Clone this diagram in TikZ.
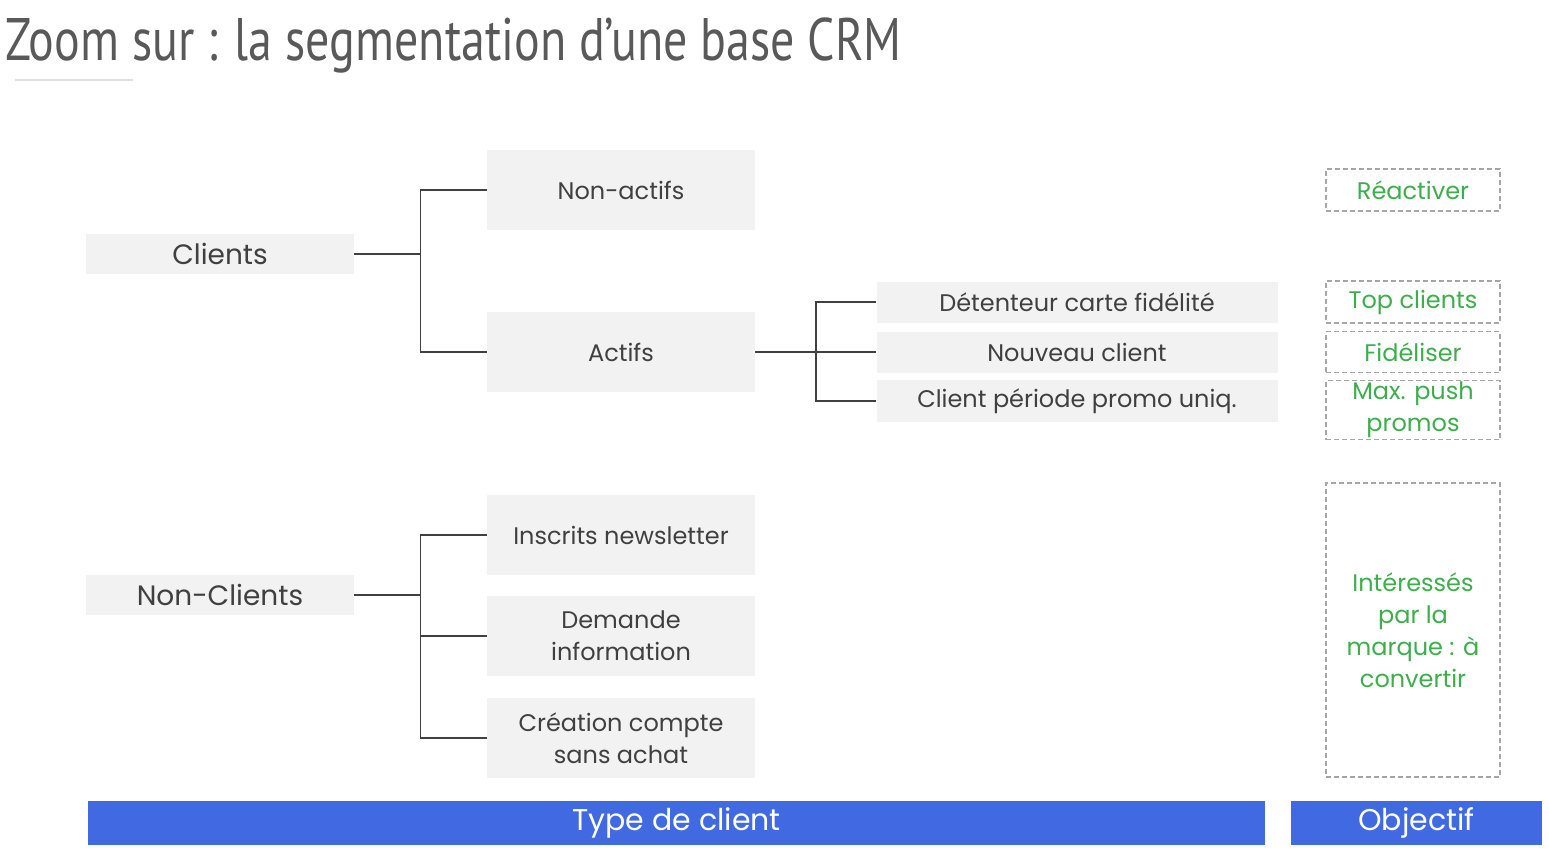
\documentclass[tikz,border=0pt]{standalone}
\usepackage{fontspec}
\setmainfont{Poppins}
\newfontfamily\titlefont[FakeStretch=0.8]{PT Sans}
\usetikzlibrary{positioning}
\definecolor{boxfill}{HTML}{F2F2F2}
\definecolor{boxtext}{HTML}{404040}
\definecolor{goalgreen}{HTML}{3DAE4B}
\definecolor{dashgray}{HTML}{A6A6A6}
\definecolor{barblue}{HTML}{4169E1}
\tikzset{
  segbox/.style={fill=boxfill, text=boxtext, inner sep=0pt, align=center, font=\fontsize{24}{32}\selectfont},
  goalbox/.style={draw=dashgray, dashed, line width=1.2pt, dash pattern=on 5pt off 3pt, text=goalgreen, inner sep=0pt, align=center, font=\fontsize{24}{32}\selectfont, minimum width=174pt},
  bar/.style={fill=barblue, text=white, inner sep=0pt, minimum height=44pt, font=\fontsize{30}{36}\selectfont},
  link/.style={draw=boxtext, line width=1.2pt}
}
\begin{document}
\begin{tikzpicture}[x=1pt,y=-1pt]
    \useasboundingbox (0,0) rectangle (1549,852);
    % title
    \node (title) [anchor=base west, inner sep=0pt, text=black!65, font=\titlefont\fontsize{60}{66}\selectfont] at (5,60) {Zoom sur : la segmentation d’une base CRM};
    \draw [black!12, line width=1.2pt] (15,80) -- (133,80);

    % segments
    \node (clients) [segbox, minimum width=268pt, minimum height=40pt, font=\fontsize{28}{32}\selectfont] at (220,254) {Clients};
    \node (nonclients) [segbox, minimum width=268pt, minimum height=40pt, font=\fontsize{28}{32}\selectfont] at (220,595) {Non-Clients};
    \node (nonactifs) [segbox, minimum width=268pt, minimum height=80pt] at (621,190) {Non-actifs};
    \node (actifs) [segbox, minimum width=268pt, minimum height=80pt] at (621,352) {Actifs};
    \node (detenteur) [segbox, minimum width=401pt, minimum height=41pt] at (1077,302) {Détenteur carte fidélité};
    \node (nouveau) [segbox, minimum width=401pt, minimum height=41pt] at (1077,352) {Nouveau client};
    \node (promo) [segbox, minimum width=401pt, minimum height=42pt] at (1077,401) {Client période promo uniq.};
    \node (newsletter) [segbox, minimum width=268pt, minimum height=80pt] at (621,535) {Inscrits newsletter};
    \node (demande) [segbox, minimum width=268pt, minimum height=80pt] at (621,636) {Demande\\information};
    \node (creation) [segbox, minimum width=268pt, minimum height=80pt] at (621,738) {Création compte\\sans achat};

    % objectives
    \node (reactiver) [goalbox, minimum height=42pt] at (1413,190) {Réactiver};
    \node (top) [goalbox, minimum height=42pt] at (1413,302) {Top clients};
    \node (fideliser) [goalbox, minimum height=41pt] at (1413,352) {Fidéliser};
    \node (maxpush) [goalbox, minimum height=59pt] at (1413,410) {Max. push\\promos};
    \node (interesses) [goalbox, minimum height=294pt] at (1413,630) {Intéressés\\par la\\marque : à\\convertir};

    % connectors
    \draw [link] (clients.east) -- ++(66,0) coordinate (cj);
    \draw [link] (nonactifs.west) -| (cj) |- (actifs.west);
    \draw [link] (actifs.east) -- (nouveau.west);
    \coordinate (aj) at (816,352);
    \draw [link] (detenteur.west) -| (aj) |- (promo.west);
    \draw [link] (nonclients.east) -- ++(66,0) coordinate (nj);
    \draw [link] (newsletter.west) -| (nj) |- (creation.west);
    \draw [link] (nj |- demande.west) -- (demande.west);

    % bars
    \node (typebar) [bar, minimum width=1177pt] at (676.5,823) {Type de client};
    \node (goalbar) [bar, minimum width=251pt] at (1416.5,823) {Objectif};
\end{tikzpicture}
\end{document}
